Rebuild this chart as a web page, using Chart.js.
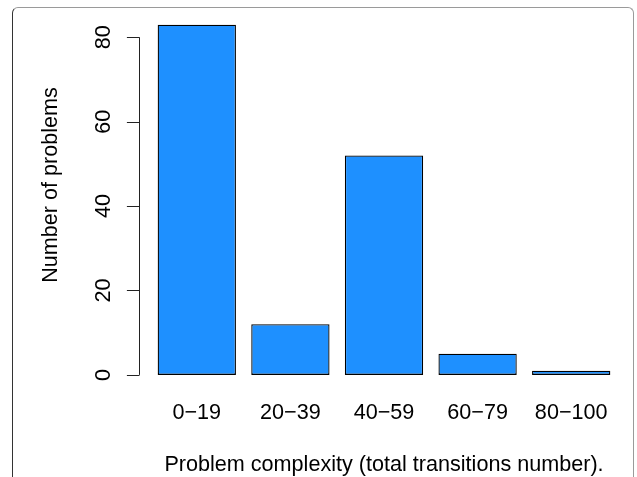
<!DOCTYPE html>
<html lang="en">
<head>
  <meta charset="UTF-8" />
  <title>Problem complexity</title>
  <script src="https://cdn.jsdelivr.net/npm/chart.js"></script>
  <style>
    html, body {
      margin: 0;
      padding: 0;
      background: #fff;
    }
    #wrap {
      position: relative;
      width: 637px;
      height: 477px;
    }
    #frame {
      position: absolute;
      left: 12px;
      top: 7px;
      width: 622px;
      height: 500px;
      border-top: 1px solid #9a9a9a;
      border-right: 1px solid #9a9a9a;
      border-left: 1px solid #333;
      border-radius: 6px 6px 0 0;
      box-sizing: border-box;
    }
    canvas {
      position: absolute;
      left: 0;
      top: 0;
    }
  </style>
</head>
<body>
  <div id="wrap">
    <div id="frame"></div>
    <canvas id="chart" width="637" height="477"></canvas>
  </div>

  <script>
    // data
    const categories = ['0\u221219', '20\u221239', '40\u221259', '60\u221279', '80\u2212100'];
    const counts = [83, 12, 52, 5, 1];
    const yTicks = [0, 20, 40, 60, 80];
    const xTitle = 'Problem complexity (total transitions number).';
    const yTitle = 'Number of problems';

    const FONT = 'Liberation Sans, Arial, Helvetica, sans-serif';
    const FSIZE = 21.6;

    // R style y axis: line only from first to last tick, set off from the bars
    const rAxis = {
      id: 'rAxis',
      afterDraw(chart) {
        const ctx = chart.ctx;
        const y = chart.scales.y;
        const axisX = 139.5;
        const tickLen = 12.6;
        ctx.save();
        ctx.strokeStyle = '#222';
        ctx.lineWidth = 1;
        ctx.beginPath();
        ctx.moveTo(axisX, y.getPixelForValue(yTicks[0]));
        ctx.lineTo(axisX, y.getPixelForValue(yTicks[yTicks.length - 1]));
        yTicks.forEach(v => {
          const py = Math.round(y.getPixelForValue(v)) + 0.5;
          ctx.moveTo(axisX, py);
          ctx.lineTo(axisX - tickLen, py);
        });
        ctx.stroke();

        ctx.fillStyle = '#000';
        ctx.font = FSIZE + 'px ' + FONT;
        ctx.textAlign = 'center';
        ctx.textBaseline = 'alphabetic';
        yTicks.forEach(v => {
          ctx.save();
          ctx.translate(110, y.getPixelForValue(v));
          ctx.rotate(-Math.PI / 2);
          ctx.fillText(String(v), 0, 0);
          ctx.restore();
        });

        ctx.save();
        ctx.translate(57, 185);
        ctx.rotate(-Math.PI / 2);
        ctx.fillText(yTitle, 0, 0);
        ctx.restore();
        ctx.restore();
      }
    };

    const ctx = document.getElementById('chart').getContext('2d');
    new Chart(ctx, {
      type: 'bar',
      data: {
        labels: categories,
        datasets: [{
          data: counts,
          backgroundColor: '#1E90FF',
          borderColor: '#000',
          borderWidth: 1.3,
          borderSkipped: false,
          barPercentage: 0.8365,
          categoryPercentage: 1,
          clip: false
        }]
      },
      options: {
        responsive: false,
        animation: false,
        layout: {
          padding: { left: 150, right: 19, top: 12, bottom: 0 }
        },
        plugins: {
          legend: { display: false },
          tooltip: { enabled: false }
        },
        scales: {
          x: {
            grid: { display: false, drawTicks: false },
            border: { display: false },
            ticks: {
              color: '#000',
              padding: 25.7,
              maxRotation: 0,
              font: { family: FONT, size: FSIZE }
            },
            title: {
              display: true,
              text: xTitle,
              color: '#000',
              padding: { top: 2.2, bottom: 1 },
              font: { family: FONT, size: FSIZE, lineHeight: 1 }
            }
          },
          y: {
            display: false,
            min: 0,
            max: 86
          }
        }
      },
      plugins: [rAxis]
    });
  </script>
</body>
</html>
